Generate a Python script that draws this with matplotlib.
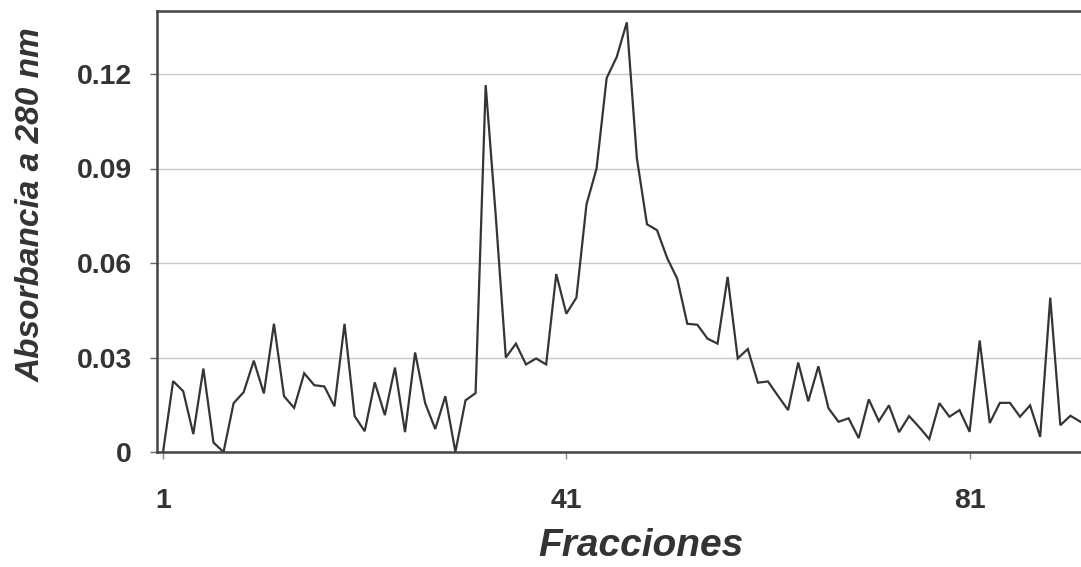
import matplotlib
matplotlib.use("Agg")
import matplotlib.pyplot as plt

fractions = list(range(1, 93))
absorbance = [
    0.0, 0.0225, 0.0193, 0.0057, 0.0265, 0.003, 0.0, 0.0155, 0.019, 0.029,
    0.0186, 0.0407, 0.0177, 0.014, 0.025, 0.0212, 0.0208, 0.0145, 0.0407, 0.0114,
    0.0066, 0.0221, 0.0117, 0.0268, 0.0063, 0.0316, 0.0155, 0.0073, 0.0177, 0.0,
    0.0164, 0.0187, 0.1165, 0.075, 0.030, 0.0344, 0.0278, 0.0297, 0.0278, 0.0565,
    0.0439, 0.049, 0.0786, 0.090, 0.1187, 0.1254, 0.1364, 0.0932, 0.0723, 0.0704,
    0.0616, 0.055, 0.0407, 0.0404, 0.036, 0.0344, 0.0556, 0.0297, 0.0327, 0.0220,
    0.0224, 0.0178, 0.0133, 0.0284, 0.0161, 0.0272, 0.0139, 0.0096, 0.0107, 0.0044,
    0.0167, 0.0098, 0.0148, 0.0063, 0.0114, 0.0079, 0.0041, 0.0155, 0.0112, 0.0133,
    0.0064, 0.0354, 0.0092, 0.0156, 0.0156, 0.0112, 0.0148, 0.0048, 0.049, 0.0085,
    0.0115, 0.0096,
]
xticks = [1, 41, 81]
yticks = [0, 0.03, 0.06, 0.09, 0.12]
ytick_labels = ["0", "0.03", "0.06", "0.09", "0.12"]

plt.rcParams['font.family'] = ['Liberation Sans', 'DejaVu Sans']

fig = plt.figure(figsize=(10.81, 5.67), dpi=100)
ax = fig.add_axes([157/1081, 1 - 452/567, 1 - 157/1081, (452 - 11)/567])

ax.plot(fractions, absorbance, color='#353535', linewidth=1.6, solid_joinstyle='miter')

ax.set_xlim(0.4, 92.05)
ax.set_ylim(0, 0.14)
ax.set_yticks(yticks)
ax.set_yticklabels(ytick_labels)
ax.set_xticks(xticks)
ax.set_xticklabels([str(v) for v in xticks])

ax.grid(axis='y', color='#c8c8c8', linewidth=1.0)
ax.set_axisbelow(True)

for s in ['left', 'bottom', 'top']:
    ax.spines[s].set_color('#444444')
    ax.spines[s].set_linewidth(1.8)
ax.spines['right'].set_visible(False)

ax.tick_params(axis='y', direction='out', length=5, width=1, color='#666666',
               labelsize=20.5, labelcolor='#333333', pad=13)
ax.tick_params(axis='x', direction='out', length=5, width=1, color='#888888',
               labelsize=20.5, labelcolor='#333333', pad=21)
for lab in ax.get_xticklabels() + ax.get_yticklabels():
    lab.set_fontweight('bold')

fig.text(31/1081, 1 - 205/567, 'Absorbancia a 280 nm', rotation=90,
         ha='center', va='center', fontsize=24, fontweight='bold',
         fontstyle='italic', color='#333333')
fig.text(641/1081, 1 - 546/567, 'Fracciones', ha='center', va='center',
         fontsize=28, fontweight='bold', fontstyle='italic', color='#333333')

fig.savefig('out.png', dpi=100, facecolor='white')
